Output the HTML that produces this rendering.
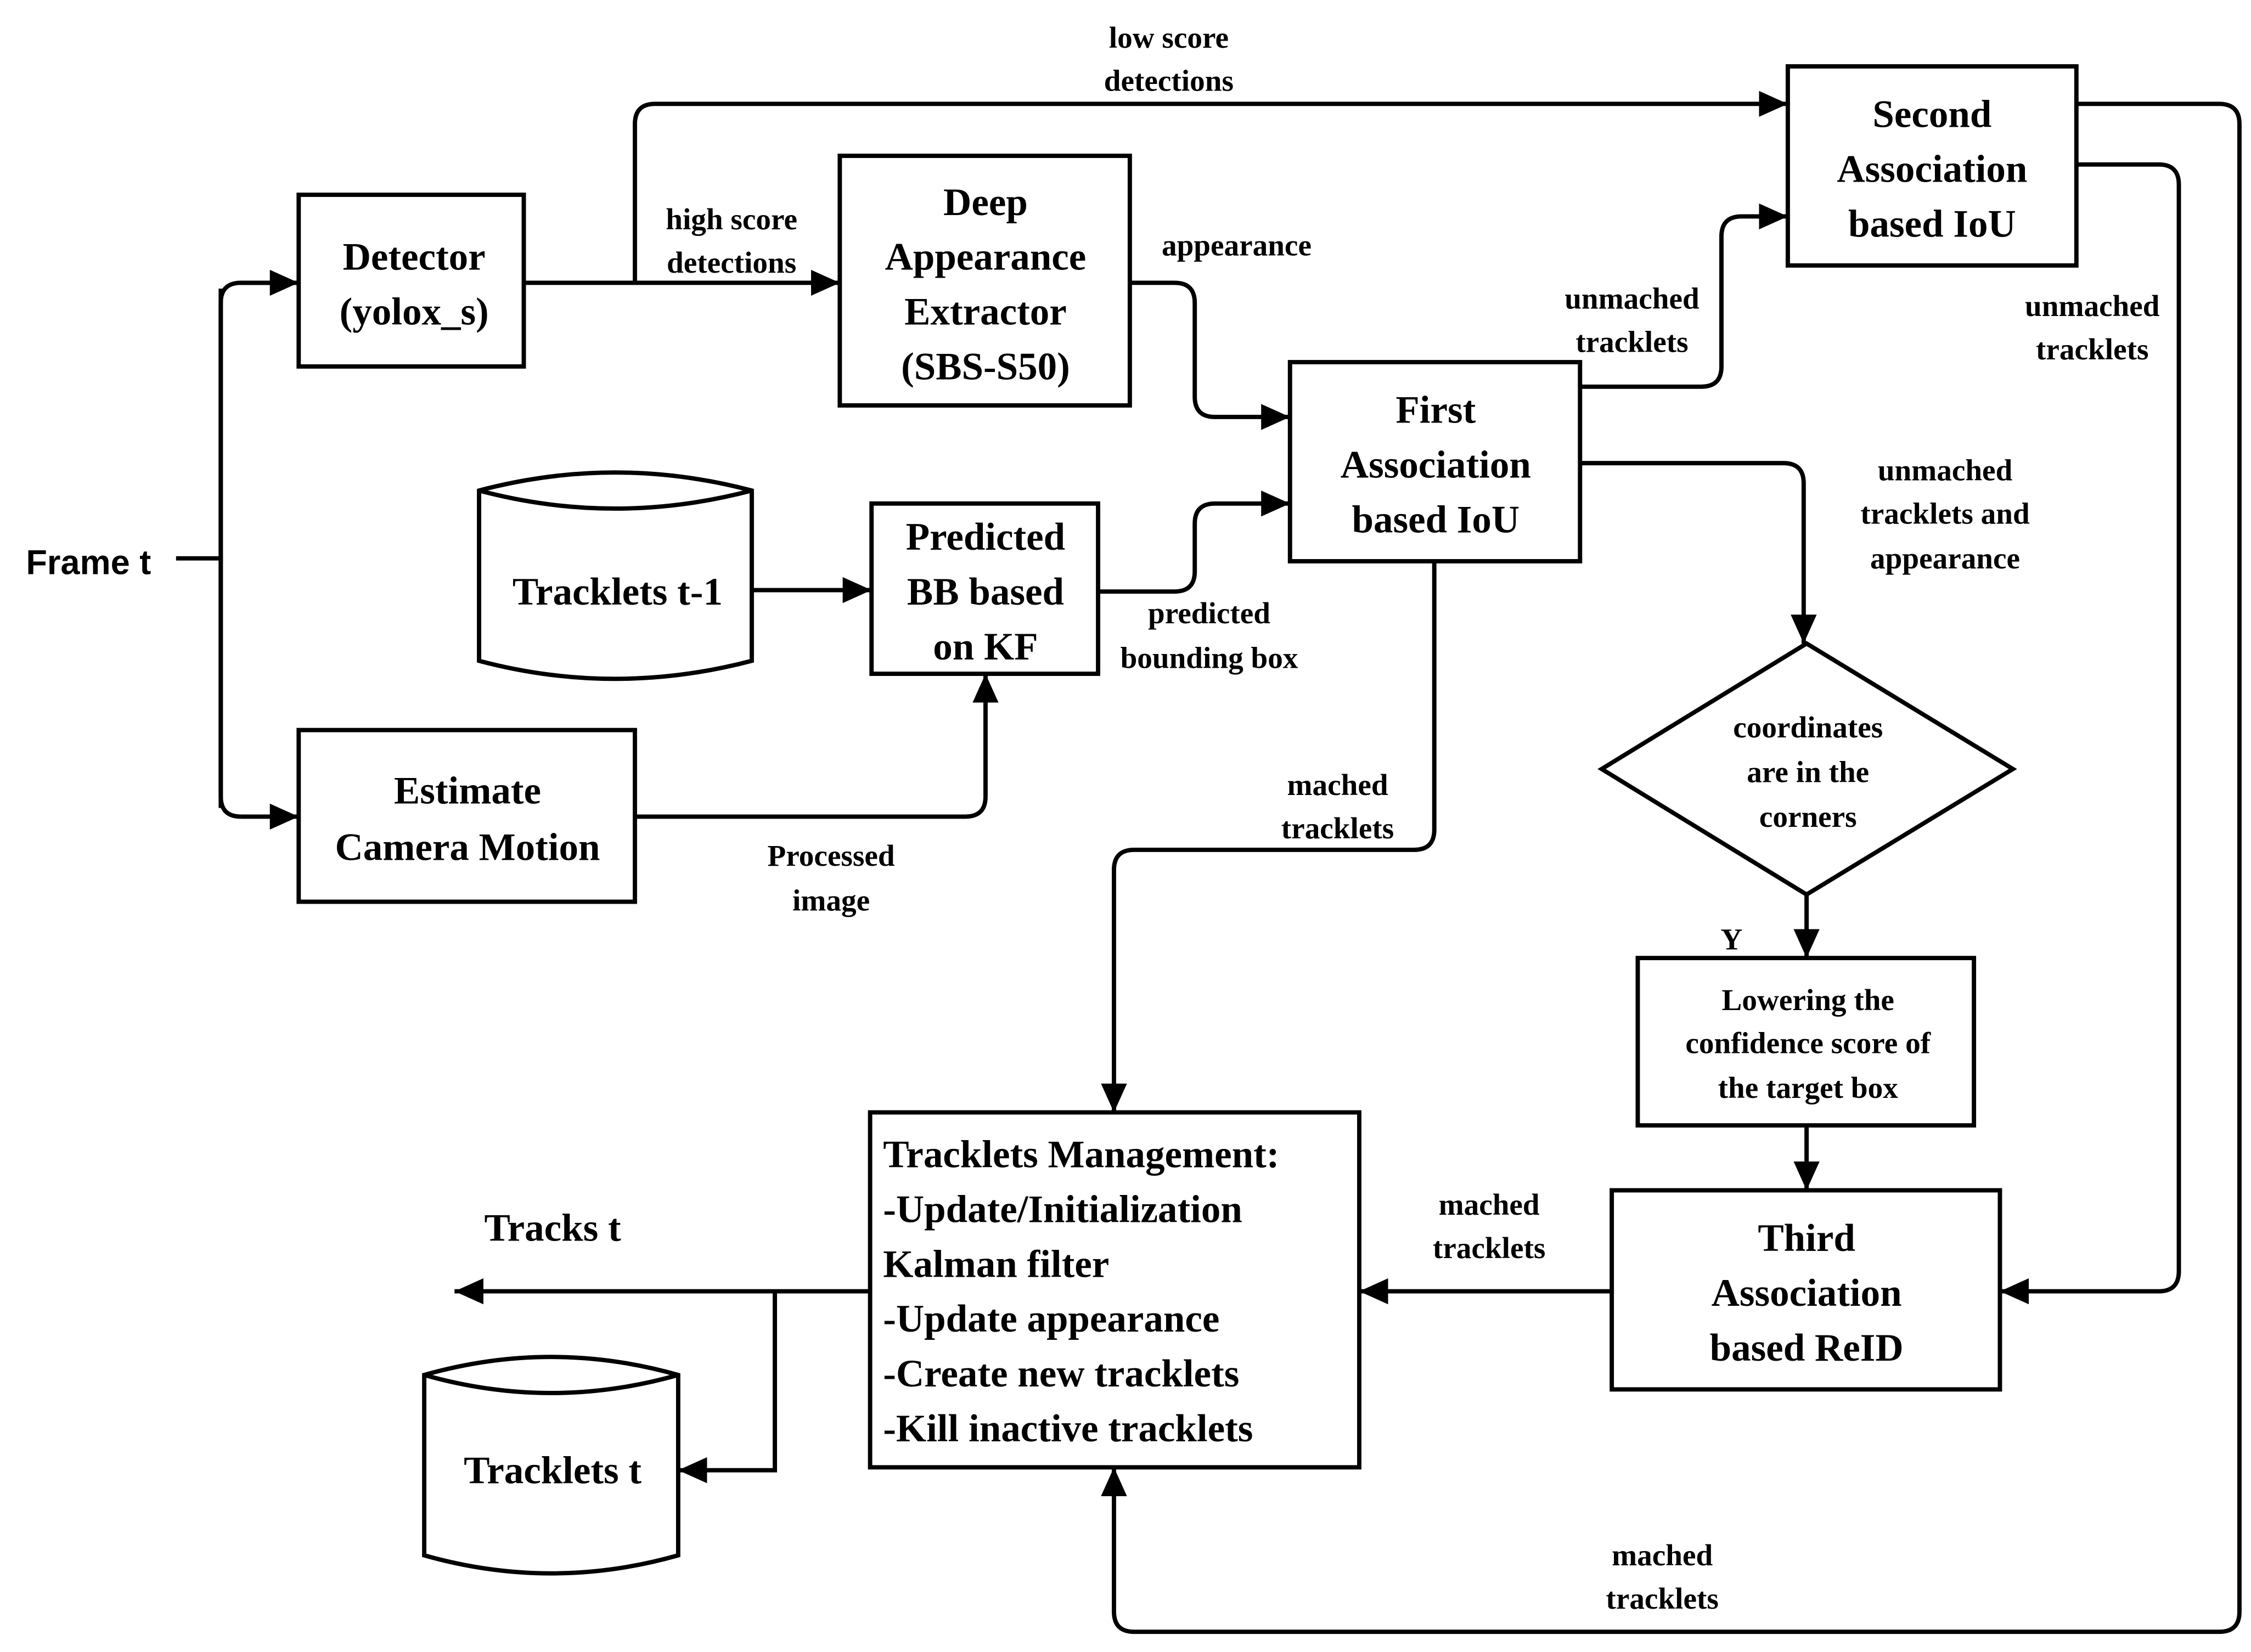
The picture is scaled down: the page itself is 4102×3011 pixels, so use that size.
<!DOCTYPE html>
<html><head><meta charset="utf-8"><style>html,body{margin:0;padding:0;background:#fff}svg{display:block}</style></head>
<body>
<svg width="4102" height="3011" viewBox="0 0 1560 1145" preserveAspectRatio="none" xmlns="http://www.w3.org/2000/svg">
<defs>
<marker id="b" markerWidth="20" markerHeight="18" refX="20" refY="9" orient="auto" markerUnits="userSpaceOnUse"><path d="M0,0 L20,9 L0,18 z" fill="#000"/></marker></defs>
<style>
.bx{fill:#fff;stroke:#000;stroke-width:3}
.ln{fill:none;stroke:#000;stroke-width:3}
text{font-family:"Liberation Serif",serif;font-weight:bold;fill:#000}
.t{font-size:27px;text-anchor:middle}
.s{font-size:21px;text-anchor:middle}
.m{font-size:27px}
</style>
<path class="ln" d="M122,387 H153"/>
<path class="ln" d="M153,200 V560"/>
<path class="ln" d="M207,196 H167 Q153,196 153,210 V552 Q153,566 167,566"/>
<path class="ln" d="M167,196 H207" marker-end="url(#b)"/>
<path class="ln" d="M167,566 H207" marker-end="url(#b)"/>
<path class="ln" d="M363,196 H582" marker-end="url(#b)"/>
<path class="ln" d="M440,196 V86 Q440,72 454,72 H1239" marker-end="url(#b)"/>
<path class="ln" d="M783,196 H814 Q828,196 828,210 V275 Q828,289 842,289 H894" marker-end="url(#b)"/>
<path class="ln" d="M761,410 H814 Q828,410 828,396 V363 Q828,349 842,349 H894" marker-end="url(#b)"/>
<path class="ln" d="M521,409 H604" marker-end="url(#b)"/>
<path class="ln" d="M440,566 H669 Q683,566 683,552 V467" marker-end="url(#b)"/>
<path class="ln" d="M1095,268 H1179 Q1193,268 1193,254 V164 Q1193,150 1207,150 H1239" marker-end="url(#b)"/>
<path class="ln" d="M1095,321 H1236 Q1250,321 1250,335 V446" marker-end="url(#b)"/>
<path class="ln" d="M994,389 V575 Q994,589 980,589 H786 Q772,589 772,603 V771" marker-end="url(#b)"/>
<path class="ln" d="M1252,620 V664" marker-end="url(#b)"/>
<path class="ln" d="M1252,780 V825" marker-end="url(#b)"/>
<path class="ln" d="M1439,114 H1496 Q1510,114 1510,128 V881 Q1510,895 1496,895 H1386" marker-end="url(#b)"/>
<path class="ln" d="M1439,72 H1538 Q1552,72 1552,86 V1117 Q1552,1131 1538,1131 H786 Q772,1131 772,1117 V1017" marker-end="url(#b)"/>
<path class="ln" d="M1117,895 H942" marker-end="url(#b)"/>
<path class="ln" d="M603,895 H315" marker-end="url(#b)"/>
<path class="ln" d="M537,895 V1019 H470" marker-end="url(#b)"/>
<rect class="bx" x="207" y="135" width="156" height="119"/>
<text class="t" x="287" y="187">Detector</text><text class="t" x="287" y="225">(yolox_s)</text>
<rect class="bx" x="582" y="108" width="201" height="173"/>
<text class="t" x="683" y="149">Deep</text><text class="t" x="683" y="187">Appearance</text><text class="t" x="683" y="225">Extractor</text><text class="t" x="683" y="263">(SBS-S50)</text>
<rect class="bx" x="1239" y="46" width="200" height="138"/>
<text class="t" x="1339" y="88">Second</text><text class="t" x="1339" y="126">Association</text><text class="t" x="1339" y="164">based IoU</text>
<rect class="bx" x="894" y="251" width="201" height="138"/>
<text class="t" x="995" y="293">First</text><text class="t" x="995" y="331">Association</text><text class="t" x="995" y="369">based IoU</text>
<path class="bx" d="M332,340 Q426,315 521,340 V458 Q426,483 332,458 Z"/>
<path class="ln" d="M332,340 Q426,365 521,340"/>
<text class="t" x="428" y="419">Tracklets t-1</text>
<rect class="bx" x="604" y="349" width="157" height="118"/>
<text class="t" x="683" y="381">Predicted</text><text class="t" x="683" y="419">BB based</text><text class="t" x="683" y="457">on KF</text>
<rect class="bx" x="207" y="506" width="233" height="119"/>
<text class="t" x="324" y="557">Estimate</text><text class="t" x="324" y="596">Camera Motion</text>
<path class="bx" d="M1252,446 L1395,533 L1252,620 L1110,533 Z"/>
<text class="s" x="1253" y="511">coordinates</text><text class="s" x="1253" y="542">are in the</text><text class="s" x="1253" y="573">corners</text>
<rect class="bx" x="1135" y="664" width="233" height="116"/>
<text class="s" x="1253" y="700">Lowering the</text><text class="s" x="1253" y="730">confidence score of</text><text class="s" x="1253" y="761">the target box</text>
<rect class="bx" x="1117" y="825" width="269" height="138"/>
<text class="t" x="1252" y="867">Third</text><text class="t" x="1252" y="905">Association</text><text class="t" x="1252" y="943">based ReID</text>
<rect class="bx" x="603" y="771" width="339" height="246"/>
<text class="m" x="612" y="809">Tracklets Management:</text>
<text class="m" x="612" y="847">-Update/Initialization</text>
<text class="m" x="612" y="885">Kalman filter</text>
<text class="m" x="612" y="923">-Update appearance</text>
<text class="m" x="612" y="961">-Create new tracklets</text>
<text class="m" x="612" y="999">-Kill inactive tracklets</text>
<path class="bx" d="M294,953 Q382,928 470,953 V1078 Q382,1103 294,1078 Z"/>
<path class="ln" d="M294,953 Q382,978 470,953"/>
<text class="t" x="383" y="1028">Tracklets t</text>
<text x="18" y="398" style="font-family:'Liberation Sans',sans-serif;font-size:24px">Frame t</text>
<text class="t" x="383" y="860">Tracks t</text>
<text class="s" x="1200" y="658">Y</text>
<text class="s" x="810" y="33">low score</text><text class="s" x="810" y="63">detections</text>
<text class="s" x="507" y="159">high score</text><text class="s" x="507" y="189">detections</text>
<text class="s" x="857" y="177">appearance</text>
<text class="s" x="1131" y="214">unmached</text><text class="s" x="1131" y="244">tracklets</text>
<text class="s" x="1450" y="219">unmached</text><text class="s" x="1450" y="249">tracklets</text>
<text class="s" x="1348" y="333">unmached</text><text class="s" x="1348" y="363">tracklets and</text><text class="s" x="1348" y="394">appearance</text>
<text class="s" x="838" y="432">predicted</text><text class="s" x="838" y="463">bounding box</text>
<text class="s" x="576" y="600">Processed</text><text class="s" x="576" y="631">image</text>
<text class="s" x="927" y="551">mached</text><text class="s" x="927" y="581">tracklets</text>
<text class="s" x="1032" y="842">mached</text><text class="s" x="1032" y="872">tracklets</text>
<text class="s" x="1152" y="1085">mached</text><text class="s" x="1152" y="1115">tracklets</text>
</svg>
</body></html>
